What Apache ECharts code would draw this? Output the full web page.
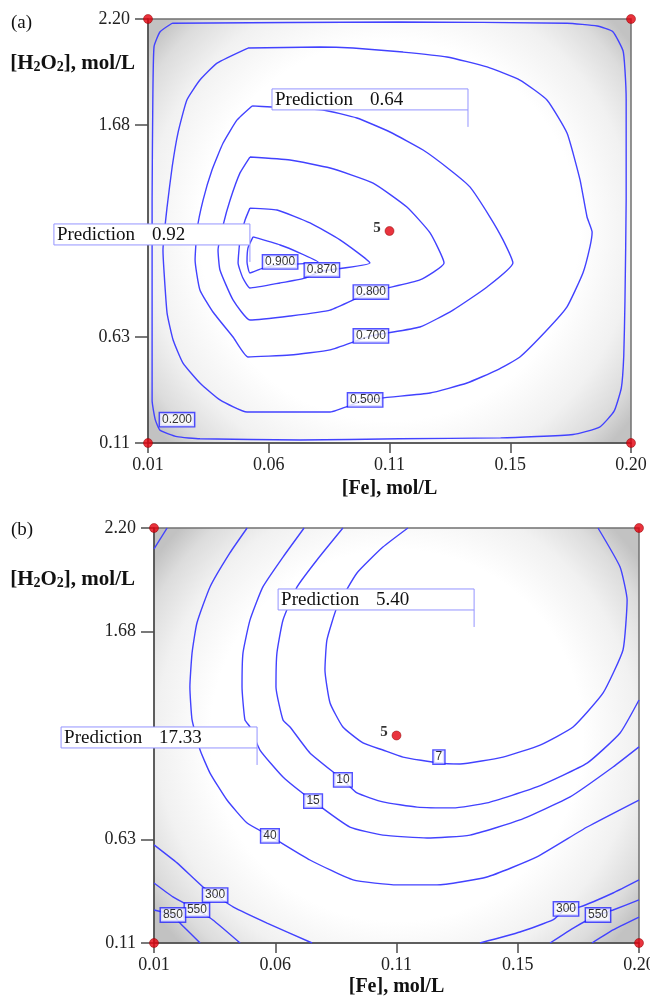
<!DOCTYPE html>
<html>
<head>
<meta charset="utf-8">
<script src="https://cdn.jsdelivr.net/npm/echarts@6.0.0/dist/echarts.min.js"></script>
<style>
  html, body { margin: 0; padding: 0; background: #fff; }
  #chart { width: 650px; height: 1000px; }
</style>
</head>
<body>
<div id="chart"></div>
<script>
// factor levels are coded (-1 .. 1), tick labels give the real values
const xTickValues = [-1, -0.5, 0, 0.5, 1];
const xTickLabels = ['0.01', '0.06', '0.11', '0.15', '0.20'];
const yTickValues = [-1, -0.5, 0.5, 1];
const yTickLabels = ['0.11', '0.63', '1.68', '2.20'];

const designPoints = [[-1, -1], [1, -1], [-1, 1], [1, 1]];
const centerPoint = [[0, 0]];

// (a) contour lines
const a200 = [[-0.90,0.98],[-0.95,0.94],[-0.975,0.87],[-0.98,0.62],[-0.983,0.15],[-0.983,-0.33],[-0.983,-0.80],[-0.97,-0.89],[-0.95,-0.94],[-0.88,-0.97],[-0.785,-0.98],[-0.37,-0.986],[0.04,-0.98],[0.46,-0.976],[0.76,-0.96],[0.87,-0.925],[0.93,-0.85],[0.96,-0.74],[0.97,-0.59],[0.975,-0.33],[0.98,0.15],[0.98,0.62],[0.975,0.76],[0.967,0.85],[0.925,0.94],[0.86,0.967],[0.735,0.98],[0.04,0.986],[-0.90,0.98]];
const a500 = [[-0.586,0.863],[-0.714,0.792],[-0.785,0.712],[-0.839,0.618],[-0.876,0.462],[-0.90,0.302],[-0.921,0.113],[-0.938,-0.09],[-0.934,-0.184],[-0.921,-0.387],[-0.896,-0.514],[-0.855,-0.623],[-0.785,-0.717],[-0.702,-0.797],[-0.59,-0.854],[-0.246,-0.854],[-0.101,-0.797],[0.168,-0.764],[0.321,-0.717],[0.445,-0.656],[0.54,-0.594],[0.652,-0.467],[0.735,-0.358],[0.801,-0.198],[0.83,-0.075],[0.839,-0.005],[0.818,0.066],[0.789,0.241],[0.735,0.462],[0.652,0.618],[0.54,0.712],[0.404,0.774],[0.238,0.821],[0.056,0.844],[-0.151,0.863],[-0.288,0.868],[-0.586,0.863]];
const a700 = [[-0.569,0.59],[-0.631,0.524],[-0.689,0.415],[-0.735,0.288],[-0.772,0.146],[-0.797,0.005],[-0.805,-0.137],[-0.785,-0.278],[-0.731,-0.382],[-0.648,-0.5],[-0.586,-0.594],[-0.412,-0.585],[-0.246,-0.561],[-0.077,-0.495],[0.126,-0.453],[0.263,-0.373],[0.404,-0.264],[0.511,-0.151],[0.47,-0.042],[0.416,0.066],[0.333,0.208],[0.251,0.288],[0.139,0.382],[0.002,0.467],[-0.135,0.533],[-0.275,0.571],[-0.487,0.585],[-0.569,0.59]];
const a800 = [[-0.578,0.349],[-0.619,0.274],[-0.66,0.146],[-0.689,0.028],[-0.71,-0.09],[-0.702,-0.184],[-0.648,-0.325],[-0.578,-0.42],[-0.412,-0.401],[-0.246,-0.373],[-0.077,-0.288],[0.126,-0.231],[0.226,-0.151],[0.168,-0.009],[0.072,0.113],[-0.068,0.226],[-0.246,0.297],[-0.412,0.335],[-0.578,0.349]];
const a870 = [[-0.578,0.108],[-0.598,0.052],[-0.619,-0.042],[-0.627,-0.151],[-0.607,-0.222],[-0.578,-0.269],[-0.453,-0.245],[-0.35,-0.222],[-0.28,-0.189],[-0.081,-0.151],[-0.205,-0.042],[-0.329,0.038],[-0.466,0.099],[-0.578,0.108]];
const a900 = [[-0.565,-0.028],[-0.453,-0.066],[-0.371,-0.104],[-0.296,-0.146],[-0.383,-0.156],[-0.453,-0.16],[-0.524,-0.175],[-0.578,-0.198],[-0.59,-0.146],[-0.586,-0.08],[-0.565,-0.028]];
const aLabels = [[-0.453,-0.146,'0.900'],[-0.28,-0.184,'0.870'],[-0.077,-0.288,'0.800'],[-0.077,-0.495,'0.700'],[-0.101,-0.797,'0.500'],[-0.88,-0.89,'0.200']];
const aPredictions = [[-0.578,-0.146,'0.92'],[0.325,0.491,'0.64']];

// (b) contour lines
const b7 = [[0.047,1.0],[-0.056,0.908],[-0.163,0.783],[-0.245,0.619],[-0.287,0.46],[-0.295,0.316],[-0.274,0.157],[-0.221,0.041],[-0.138,-0.036],[-0.056,-0.07],[0.027,-0.104],[0.175,-0.133],[0.262,-0.137],[0.439,-0.104],[0.592,-0.046],[0.728,0.041],[0.852,0.205],[0.934,0.412],[0.951,0.653],[0.922,0.812],[0.831,1.0]];
const b10 = [[-0.221,1.0],[-0.328,0.846],[-0.41,0.716],[-0.468,0.557],[-0.493,0.398],[-0.497,0.234],[-0.468,0.075],[-0.439,0.041],[-0.357,-0.084],[-0.221,-0.214],[-0.163,-0.277],[-0.056,-0.32],[0.085,-0.345],[0.233,-0.349],[0.373,-0.325],[0.579,-0.248],[0.786,-0.133],[0.922,0.012],[1.0,0.171]];
const b15 = [[-0.381,1.0],[-0.468,0.86],[-0.551,0.716],[-0.604,0.557],[-0.633,0.398],[-0.637,0.234],[-0.625,0.075],[-0.604,0.041],[-0.563,-0.07],[-0.468,-0.2],[-0.344,-0.316],[-0.192,-0.441],[-0.056,-0.48],[0.126,-0.494],[0.303,-0.48],[0.509,-0.407],[0.716,-0.296],[0.893,-0.152],[1.0,-0.055]];
const b40 = [[-0.616,1.0],[-0.687,0.88],[-0.769,0.716],[-0.823,0.542],[-0.843,0.398],[-0.852,0.234],[-0.843,0.075],[-0.81,-0.07],[-0.769,-0.181],[-0.699,-0.311],[-0.616,-0.422],[-0.522,-0.484],[-0.357,-0.6],[-0.179,-0.696],[0.002,-0.72],[0.167,-0.72],[0.373,-0.682],[0.579,-0.585],[0.786,-0.441],[1.0,-0.311]];
const bCorner = [[-0.946,1.0],[-1.0,0.899]];
const b300L = [[-1.0,-0.527],[-0.905,-0.614],[-0.798,-0.73],[-0.748,-0.769],[-0.674,-0.826],[-0.534,-0.904],[-0.348,-1.0]];
const b550L = [[-1.0,-0.711],[-0.922,-0.778],[-0.823,-0.841],[-0.757,-0.889],[-0.645,-1.0]];
const b850L = [[-1.0,-0.841],[-0.922,-0.865],[-0.893,-0.904],[-0.81,-1.0]];
const b300R = [[0.344,-1.0],[0.509,-0.947],[0.645,-0.889],[0.699,-0.836],[0.757,-0.826],[0.893,-0.759],[1.0,-0.696]];
const b550R = [[0.633,-1.0],[0.736,-0.923],[0.831,-0.865],[0.893,-0.841],[1.0,-0.792]];
const b850R = [[0.806,-1.0],[0.893,-0.937],[1.0,-0.875]];
const bLabels = [[0.175,-0.104,'7'],[-0.221,-0.214,'10'],[-0.344,-0.316,'15'],[-0.522,-0.484,'40'],[-0.748,-0.769,'300'],[-0.823,-0.841,'550'],[-0.922,-0.865,'850'],[0.699,-0.836,'300'],[0.831,-0.865,'550']];
const bPredictions = [[-0.575,-0.142,'17.33'],[0.32,0.523,'5.40']];

const SERIF = '"Liberation Serif", "Times New Roman", serif';
const SANS = '"Liberation Sans", Arial, sans-serif';
const LINE_BLUE = '#4242ff';
const BOX_BLUE = '#9494ff';

function tickLabel(values, labels) {
  return (v) => {
    const i = values.findIndex((t) => Math.abs(t - v) < 1e-6);
    return i < 0 ? '' : labels[i];
  };
}

const plotBackground = {
  type: 'radial', x: 0.5, y: 0.5, r: 0.72,
  colorStops: [
    { offset: 0, color: '#ffffff' },
    { offset: 0.62, color: '#ffffff' },
    { offset: 0.8, color: '#f1f1f1' },
    { offset: 0.92, color: '#dcdcdc' },
    { offset: 1, color: '#c2c2c2' },
  ],
};

function makeXAxis(gridIndex, nameGap) {
  return {
    type: 'value', gridIndex, min: -1, max: 1,
    name: '[Fe], mol/L', nameLocation: 'middle', nameGap,
    nameTextStyle: { fontFamily: SERIF, fontSize: 20, fontWeight: 'bold', color: '#111' },
    axisLine: { show: true, onZero: false, lineStyle: { color: '#4d4d4d', width: 1.5 } },
    axisTick: { show: true, customValues: xTickValues, length: 10, lineStyle: { color: '#4d4d4d', width: 1.5 } },
    axisLabel: { customValues: xTickValues, formatter: tickLabel(xTickValues, xTickLabels), margin: 13, fontFamily: SERIF, fontSize: 18, color: '#222' },
    splitLine: { show: false },
  };
}

function makeYAxis(gridIndex, nameGap, namePad) {
  return {
    type: 'value', gridIndex, min: -1, max: 1,
    name: '{n|[H}{s|2}{n|O}{s|2}{n|], mol/L}', nameLocation: 'end', nameGap,
    nameTextStyle: {
      align: 'right', verticalAlign: 'middle', padding: [0, namePad, 0, 0],
      rich: {
        n: { fontFamily: SERIF, fontSize: 21, fontWeight: 'bold', color: '#111', lineHeight: 24, verticalAlign: 'top' },
        s: { fontFamily: SERIF, fontSize: 14, fontWeight: 'bold', color: '#111', lineHeight: 24, verticalAlign: 'top', padding: [7, 0, 0, 0] },
      },
    },
    axisLine: { show: true, onZero: false, lineStyle: { color: '#4d4d4d', width: 1.5 } },
    axisTick: { show: true, customValues: yTickValues, length: 13, lineStyle: { color: '#4d4d4d', width: 1.5 } },
    axisLabel: { customValues: yTickValues, formatter: tickLabel(yTickValues, yTickLabels), margin: 18, fontFamily: SERIF, fontSize: 18, color: '#222' },
    splitLine: { show: false },
  };
}

function contourSeries(data, idx) {
  return {
    type: 'line', xAxisIndex: idx, yAxisIndex: idx, data,
    showSymbol: false, smooth: 0.15, silent: true, z: 3,
    lineStyle: { color: LINE_BLUE, width: 1.4 },
  };
}

function labelSeries(labels, idx) {
  return {
    type: 'scatter', xAxisIndex: idx, yAxisIndex: idx, silent: true, z: 5,
    symbolSize: 1, itemStyle: { color: 'rgba(0,0,0,0)' },
    data: labels.map((d) => ({ value: [d[0], d[1]], name: d[2] })),
    label: {
      show: true, position: 'inside', formatter: '{b}',
      fontFamily: SANS, fontSize: 12, color: '#000', lineHeight: 12,
      backgroundColor: '#fff', borderColor: '#2424ff', borderWidth: 1.4, padding: [1, 2, 0, 2],
    },
  };
}

function pointSeries(idx) {
  return [
    {
      type: 'scatter', xAxisIndex: idx, yAxisIndex: idx, data: designPoints, clip: false, silent: true, z: 6,
      symbolSize: 9, itemStyle: { color: '#e4000c', borderColor: '#8c0000', borderWidth: 0.6 },
    },
    {
      type: 'scatter', xAxisIndex: idx, yAxisIndex: idx, data: centerPoint, clip: false, silent: true, z: 6,
      symbolSize: 9, itemStyle: { color: '#e4000c', borderColor: '#8c0000', borderWidth: 0.6 },
      label: { show: true, position: 'left', distance: 4, offset: [0, -3], formatter: '5', fontFamily: SERIF, fontSize: 15, fontWeight: 'bold', color: '#000' },
    },
  ];
}

function predictionSeries(preds, idx) {
  return {
    type: 'custom', xAxisIndex: idx, yAxisIndex: idx, silent: true, z: 7, clip: false,
    data: preds.map((d) => [d[0], d[1]]),
    renderItem: (params, api) => {
      const p = api.coord([api.value(0), api.value(1)]);
      const w = 196, h = 21, lead = 17;
      const x0 = p[0] - w, y0 = p[1] - lead - h;
      return {
        type: 'group',
        children: [
          { type: 'line', shape: { x1: p[0], y1: p[1], x2: p[0], y2: p[1] - lead }, style: { stroke: BOX_BLUE, lineWidth: 1 } },
          { type: 'rect', shape: { x: x0, y: y0, width: w, height: h }, style: { fill: '#fff', stroke: BOX_BLUE, lineWidth: 1 } },
          { type: 'text', x: x0 + 3, y: y0 + h / 2 + 1, style: { text: 'Prediction', fill: '#111', font: '19px ' + SERIF, align: 'left', verticalAlign: 'middle' } },
          { type: 'text', x: x0 + 98, y: y0 + h / 2 + 1, style: { text: preds[params.dataIndex][2], fill: '#111', font: '19px ' + SERIF, align: 'left', verticalAlign: 'middle' } },
        ],
      };
    },
  };
}

const aContours = [a200, a500, a700, a800, a870, a900];
const bContours = [b7, b10, b15, b40, bCorner, b300L, b550L, b850L, b300R, b550R, b850R];

const chart = echarts.init(document.getElementById('chart'));

const option = {
  animation: false,
  backgroundColor: '#fff',
  title: [
    { text: '(a)', left: 6, top: 9, textStyle: { fontFamily: SERIF, fontSize: 19, fontWeight: 'normal', color: '#111' } },
    { text: '(b)', left: 6, top: 516, textStyle: { fontFamily: SERIF, fontSize: 19, fontWeight: 'normal', color: '#111' } },
  ],
  grid: [
    { left: 148, top: 19, width: 483, height: 424, outerBoundsMode: 'none', containLabel: false, show: true, backgroundColor: plotBackground, borderColor: '#707070', borderWidth: 1.5 },
    { left: 154, top: 528, width: 485, height: 415, outerBoundsMode: 'none', containLabel: false, show: true, backgroundColor: plotBackground, borderColor: '#707070', borderWidth: 1.5 },
  ],
  xAxis: [makeXAxis(0, 36), makeXAxis(1, 34)],
  yAxis: [makeYAxis(0, -46, 13), makeYAxis(1, -53, 19)],
  series: [
    ...aContours.map((c) => contourSeries(c, 0)),
    ...bContours.map((c) => contourSeries(c, 1)),
    labelSeries(aLabels, 0),
    labelSeries(bLabels, 1),
    ...pointSeries(0),
    ...pointSeries(1),
    predictionSeries(aPredictions, 0),
    predictionSeries(bPredictions, 1),
  ],
};

chart.setOption(option);
</script>
</body>
</html>
